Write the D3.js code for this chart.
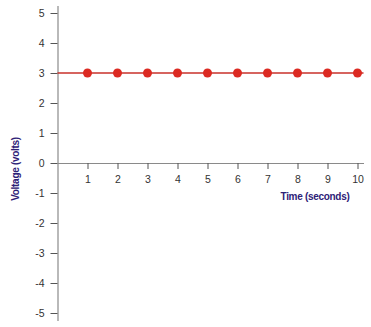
<!DOCTYPE html>
<html>
<head>
<meta charset="utf-8">
<script src="https://cdn.jsdelivr.net/npm/d3@7"></script>
<style>
  body { margin: 0; background: #fff; }
  svg text { font-family: "Liberation Sans", Arial, sans-serif; }
</style>
</head>
<body>
<div id="chart"></div>
<script>
// chart data
var times = [1, 2, 3, 4, 5, 6, 7, 8, 9, 10];
var voltages = [3, 3, 3, 3, 3, 3, 3, 3, 3, 3];
var xTicks = [1, 2, 3, 4, 5, 6, 7, 8, 9, 10];
var yTicks = [-5, -4, -3, -2, -1, 0, 1, 2, 3, 4, 5];

var svgWidth = 371;
var svgHeight = 327;

var svg = d3.select("#chart")
  .append("svg")
  .attr("width", svgWidth)
  .attr("height", svgHeight);

// 30px per unit on both axes
var xScale = d3.scaleLinear()
  .domain([0, 10.2])
  .range([57.5, 363.5]);

var yScale = d3.scaleLinear()
  .domain([-5.25, 5.25])
  .range([320.5, 5.5]);

var axisColor = "#8a8a8a";
var labelColor = "#333";

// x axis at y = 0
var xAxis = svg.append("g")
  .attr("transform", `translate(0, ${yScale(0)})`)
  .call(d3.axisBottom(xScale).tickValues(xTicks).tickSizeInner(6).tickSizeOuter(0)
    .tickPadding(7).tickFormat(d3.format("d")));

// y axis at x = 0
var yAxis = svg.append("g")
  .attr("transform", `translate(${xScale(0)}, 0)`)
  .call(d3.axisLeft(yScale).tickValues(yTicks).tickSizeInner(7).tickSizeOuter(0)
    .tickPadding(6).tickFormat(d => String(d)));

[xAxis, yAxis].forEach(function(ax) {
  ax.select(".domain").attr("stroke", axisColor).attr("stroke-width", 1.2);
  ax.selectAll(".tick line").attr("stroke", "#555").attr("stroke-width", 1);
  ax.selectAll(".tick text")
    .attr("fill", labelColor)
    .style("font-size", "10.5px");
});

// red line at the data values
var line = d3.line()
  .x(d => d[0])
  .y(d => d[1]);

svg.append("path")
  .attr("d", line([[xScale(0), yScale(voltages[0])], [xScale(10.2), yScale(voltages[voltages.length - 1])]]))
  .attr("stroke", "#c8302a")
  .attr("stroke-width", 1.3)
  .attr("fill", "none");

svg.selectAll("circle")
  .data(times)
  .enter()
  .append("circle")
  .attr("cx", d => xScale(d))
  .attr("cy", (d, i) => yScale(voltages[i]))
  .attr("r", 4.5)
  .attr("fill", "#dc2a22");

// axis titles
svg.append("text")
  .attr("x", 315)
  .attr("y", 200)
  .attr("text-anchor", "middle")
  .attr("fill", "#2e2177")
  .style("font-size", "10px")
  .style("font-weight", "bold")
  .style("letter-spacing", "-0.3px")
  .text("Time (seconds)");

svg.append("text")
  .attr("transform", `translate(19, 169) rotate(-90)`)
  .attr("text-anchor", "middle")
  .attr("fill", "#2e2177")
  .style("font-size", "10px")
  .style("font-weight", "bold")
  .style("letter-spacing", "-0.3px")
  .text("Voltage (volts)");
</script>
</body>
</html>
